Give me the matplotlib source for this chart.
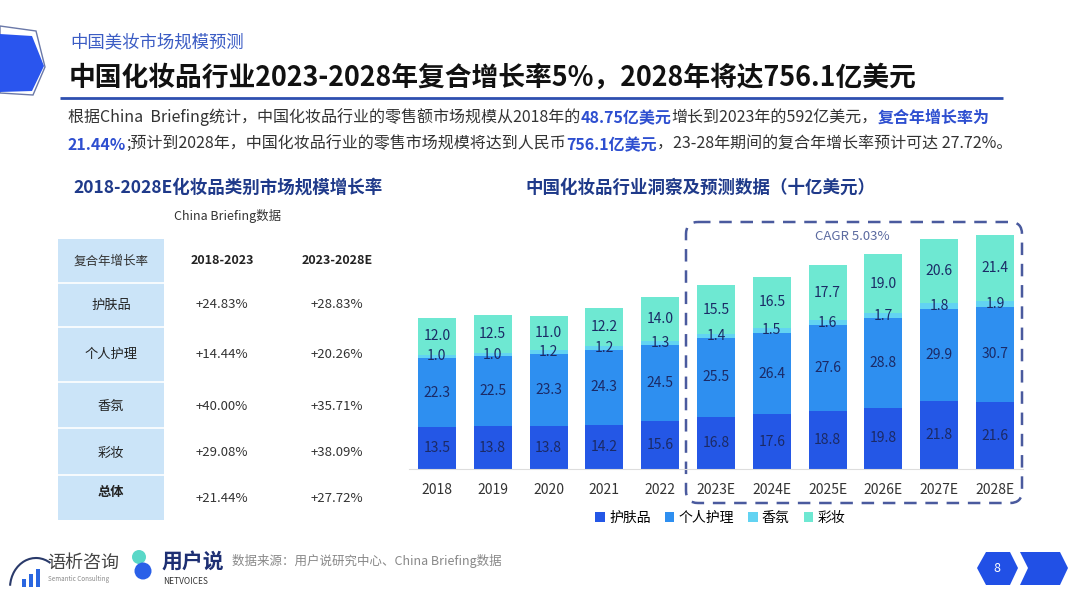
import numpy as np
import matplotlib
matplotlib.use('Agg')
import matplotlib.pyplot as plt
from matplotlib.patches import Polygon, Rectangle, FancyBboxPatch, Arc, Circle

plt.rcParams['font.family'] = ['Noto Sans CJK SC', 'DejaVu Sans']

# chart data (十亿美元)
years = ['2018', '2019', '2020', '2021', '2022', '2023E', '2024E', '2025E', '2026E', '2027E', '2028E']
skincare = [13.5, 13.8, 13.8, 14.2, 15.6, 16.8, 17.6, 18.8, 19.8, 21.8, 21.6]
personal = [22.3, 22.5, 23.3, 24.3, 24.5, 25.5, 26.4, 27.6, 28.8, 29.9, 30.7]
fragrance = [1.0, 1.0, 1.2, 1.2, 1.3, 1.4, 1.5, 1.6, 1.7, 1.8, 1.9]
makeup = [12.0, 12.5, 11.0, 12.2, 14.0, 15.5, 16.5, 17.7, 19.0, 20.6, 21.4]
series_names = ['护肤品', '个人护理', '香氛', '彩妆']

# table data
tbl_header = ['复合年增长率', '2018-2023', '2023-2028E']
tbl_rows = ['护肤品', '个人护理', '香氛', '彩妆', '总体']
cagr_1823 = ['+24.83%', '+14.44%', '+40.00%', '+29.08%', '+21.44%']
cagr_2328 = ['+28.83%', '+20.26%', '+35.71%', '+38.09%', '+27.72%']

colors = ['#2457e6', '#2e8ff0', '#62d3f2', '#6ee8d2']
navy = '#1f3a8a'
lbl_col = '#1b2a66'

fig = plt.figure(figsize=(10.8, 6.08), dpi=100)

# background axes in pixel coords for slide decorations
bg = fig.add_axes([0, 0, 1, 1])
bg.set_xlim(0, 1080)
bg.set_ylim(608, 0)
bg.axis('off')

# top-left hexagon
bg.add_patch(Polygon([(0, 26), (36, 31), (45, 67), (33, 95), (0, 93)], closed=True,
                     fill=False, ec='#6a78a8', lw=1))
bg.add_patch(Polygon([(0, 34), (32, 36), (44, 66), (32, 91), (0, 92)], closed=True,
                     fc='#2a55ee', ec='none'))

# header
bg.text(70, 42, '中国美妆市场规模预测', fontsize=12.5, color='#3b5cc4', va='center')
bg.text(69, 78, '中国化妆品行业2023-2028年复合增长率5%，2028年将达756.1亿美元',
        fontsize=19.3, fontweight='bold', color='#111111', va='center')
bg.plot([60, 1003], [98, 98], color='#2e4fb0', lw=2, solid_capstyle='butt')


def rich_line(x, y, parts, size=11.5):
    prev = None
    for s, hl in parts:
        kw = dict(fontsize=size, color='#2e4fd0' if hl else '#333333',
                  fontweight='bold' if hl else 'normal')
        if prev is None:
            prev = bg.text(x, y, s, va='center', ha='left', **kw)
        else:
            prev = bg.annotate(s, xy=(1, 0), xycoords=prev, va='bottom', ha='left', **kw)


rich_line(68, 117, [('根据China  Briefing统计，中国化妆品行业的零售额市场规模从2018年的', False),
                    ('48.75亿美元', True), ('增长到2023年的592亿美元，', False),
                    ('复合年增长率为', True)])
rich_line(68, 145, [('21.44%', True), (';预计到2028年，中国化妆品行业的零售市场规模将达到人民币', False),
                    ('756.1亿美元', True), ('，23-28年期间的复合年增长率预计可达 27.72%。', False)])

# left table
bg.text(228, 188, '2018-2028E化妆品类别市场规模增长率', fontsize=12.6, fontweight='bold',
        color=navy, ha='center', va='center')
bg.text(228, 216, 'China Briefing数据', fontsize=9, color='#333333', ha='center', va='center')
bg.add_patch(Rectangle((58, 239), 106, 281, fc='#cbe4f8', ec='none'))
for yy in [283, 327, 382, 428, 475]:
    bg.plot([58, 164], [yy, yy], color='white', lw=1.2)
col_x = [111, 222, 337]
bg.text(col_x[0], 261, tbl_header[0], fontsize=9, color='#333333', ha='center', va='center')
bg.text(col_x[1], 261, tbl_header[1], fontsize=9, fontweight='bold', color='#222222', ha='center', va='center')
bg.text(col_x[2], 261, tbl_header[2], fontsize=9, fontweight='bold', color='#222222', ha='center', va='center')
row_y = [305, 354, 406, 453, 492]
for i, name in enumerate(tbl_rows):
    last = i == len(tbl_rows) - 1
    bg.text(col_x[0], row_y[i], name, fontsize=9.5, color='#222222', ha='center', va='center',
            fontweight='bold' if last else 'normal')
    vy = row_y[i] + (6 if last else 0)
    bg.text(col_x[1], vy, cagr_1823[i], fontsize=9.5, color='#333333', ha='center', va='center')
    bg.text(col_x[2], vy, cagr_2328[i], fontsize=9.5, color='#333333', ha='center', va='center')

# chart title
bg.text(700, 188, '中国化妆品行业洞察及预测数据（十亿美元）', fontsize=12.6, fontweight='bold',
        color=navy, ha='center', va='center')

# forecast box
bg.add_patch(FancyBboxPatch((686, 222), 336, 281, boxstyle='round,pad=0,rounding_size=12',
                            fill=False, ec='#4a5a9e', lw=1.8, ls=(0, (5, 3.5))))
bg.text(852, 237, 'CAGR 5.03%', fontsize=9.5, color='#5b6aa0', ha='center', va='center')

# footer
bg.add_patch(Arc((36, 588), 52, 60, theta1=185, theta2=300, color='#2a3a6a', lw=1.5))
for k, h in enumerate([8, 13, 18]):
    bg.add_patch(Rectangle((22 + k * 7, 587 - h), 4, h, fc='#2a66e0', ec='none'))
bg.text(47, 563, '语析咨询', fontsize=13, color='#444444', va='center')
bg.text(48, 579, 'Semantic Consulting', fontsize=4.5, color='#888888', va='center')
bg.add_patch(Circle((139, 557), 7, fc='#5ad8c8', ec='none'))
bg.add_patch(Circle((143, 571), 8.5, fc='#2a60e8', ec='none'))
bg.text(162, 561, '用户说', fontsize=15, fontweight='bold', color='#1d2f73', va='center')
bg.text(163, 581, 'NETVOICES', fontsize=6, color='#333333', va='center')
bg.text(232, 561, '数据来源：用户说研究中心、China Briefing数据', fontsize=9, color='#888888', va='center')
bg.add_patch(Polygon([(977, 568), (986, 552), (1010, 552), (1018, 568), (1010, 585), (986, 585)],
                     closed=True, fc='#2150e6', ec='none'))
bg.add_patch(Polygon([(1020, 552), (1060, 552), (1068, 568), (1060, 585), (1020, 585), (1028, 568)],
                     closed=True, fc='#2150e6', ec='none'))
bg.text(997, 568, '8', fontsize=9, color='white', ha='center', va='center')

# stacked bar chart
ax = fig.add_axes([409 / 1080, (608 - 469) / 608, 614 / 1080, 85 * 3.1 / 608])
ax.patch.set_alpha(0)
x = np.arange(len(years))
bottom = np.zeros(len(years))
for vals, c, name in zip([skincare, personal, fragrance, makeup], colors, series_names):
    bars = ax.bar(x, vals, 0.68, bottom=bottom, color=c, label=name)
    ax.bar_label(bars, labels=['%.1f' % v for v in vals], label_type='center',
                 fontsize=10, color=lbl_col)
    bottom += np.array(vals)

ax.set_xlim(-0.5, len(years) - 0.5)
ax.set_ylim(0, 85)
ax.set_xticks(x)
ax.set_xticklabels(years, fontsize=10, color='#333333')
ax.tick_params(axis='x', length=0, pad=10)
ax.set_yticks([])
for s in ['top', 'right', 'left']:
    ax.spines[s].set_visible(False)
ax.spines['bottom'].set_color('#dddddd')
ax.legend(loc='center', bbox_to_anchor=(0.507, -0.186), ncol=4, frameon=False,
          fontsize=10, handlelength=0.7, handleheight=0.7, handletextpad=0.3,
          columnspacing=1.0)

fig.savefig('out.png', dpi=100)
